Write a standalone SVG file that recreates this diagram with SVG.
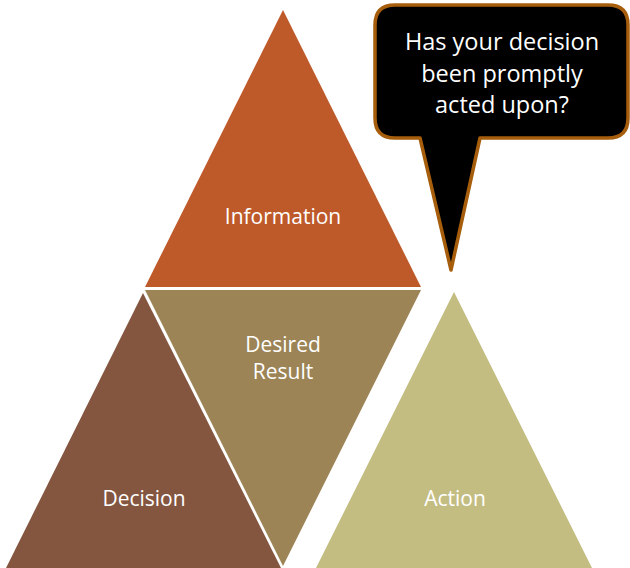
<svg xmlns="http://www.w3.org/2000/svg" width="630" height="568" viewBox="0 0 630 568">
<style>
.lbl{font-family:"Open Sans","Liberation Sans",sans-serif;font-size:21px;fill:#ffffff;text-anchor:middle}
.call{font-family:"Open Sans","Liberation Sans",sans-serif;font-size:23.5px;fill:#ffffff;text-anchor:middle}
</style>
<rect width="630" height="568" fill="#ffffff"/>
<g id="information">
<polygon points="283,10 421,287 145,287" fill="#BE5A2A"/>
<text class="lbl" x="283" y="224">Information</text>
</g>
<g id="desired-result">
<polygon points="145,290 421,290 283,566" fill="#9C8456"/>
<text class="lbl" x="283" y="352">Desired</text>
<text class="lbl" x="283" y="379">Result</text>
</g>
<g id="decision">
<polygon points="143,293 281,568 6,568" fill="#845640"/>
<text class="lbl" x="144" y="506">Decision</text>
</g>
<g id="action">
<polygon points="454,292 592,568 316,568" fill="#C4BD82"/>
<text class="lbl" x="455" y="506">Action</text>
</g>
<g id="callout">
<path d="M395,5 H608 Q628,5 628,25 V118 Q628,138 608,138 H480 L451,270 L420,138 H395 Q375,138 375,118 V25 Q375,5 395,5 Z" fill="#000000" stroke="#A65E0C" stroke-width="3.5" stroke-linejoin="round"/>
<text class="call" x="502" y="50">Has your decision</text>
<text class="call" x="502" y="82">been promptly</text>
<text class="call" x="502" y="113">acted upon?</text>
</g>
<g id="connectors"></g>
</svg>
